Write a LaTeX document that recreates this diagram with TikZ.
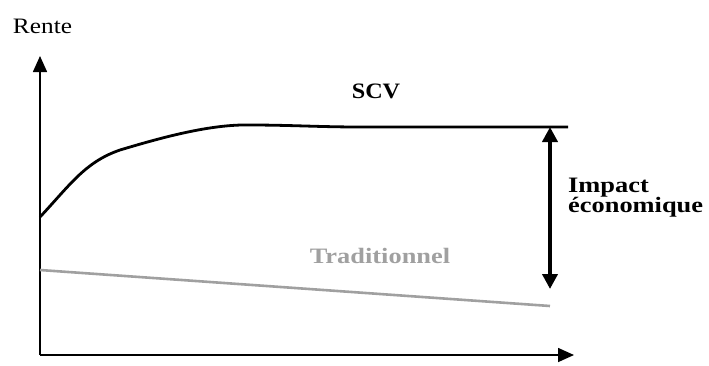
\documentclass[tikz,border=0pt]{standalone}
\usepackage{fontspec}
\setmainfont{Liberation Serif}[FakeStretch=1.15]
\newfontfamily\boldwide{Liberation Serif}[FakeStretch=1.2]
\newfontfamily\boldscv{Liberation Serif}[FakeStretch=1.1]
\usetikzlibrary{arrows.meta}
\definecolor{tradgray}{RGB}{160,160,160}
\tikzset{
  axis/.style={line width=1.6pt,-{Triangle[length=16pt,width=14pt]}},
  lbl/.style={font=\fontsize{22}{20}\boldwide\bfseries, inner sep=0pt, anchor=base},
  curve/.style={line width=2.8pt},
  dbl/.style={line width=3.8pt, {Triangle[length=15pt,width=15pt]}-{Triangle[length=15pt,width=15pt]}},
}
\begin{document}
\begin{tikzpicture}[x=1pt,y=-1pt]
\useasboundingbox (0,0) rectangle (709,365);
\coordinate (O) at (40,355);
\coordinate (ytip) at (40,56);
\coordinate (xtip) at (574,355);
\node[inner sep=0pt, anchor=base, font=\fontsize{22}{22}\selectfont] (rente) at (42.5,33) {Rente};
\draw[axis] (O) -- (ytip);
\draw[axis] (O) -- (xtip);
% SCV curve
\coordinate (s0) at (40,217);
\coordinate (s1) at (568,127);
\draw[curve] (s0) .. controls (70,185) and (85,162) .. (120,150)
  .. controls (160,138) and (210,124) .. (250,125)
  .. controls (290,125) and (320,127) .. (360,127) -- (s1);
\node[lbl, font=\fontsize{22}{20}\boldscv\bfseries] (scv) at (376,98) {SCV};
% Traditionnel
\coordinate (t0) at (40,270);
\coordinate (t1) at (550,306);
\draw[line width=2.6pt, tradgray] (t0) -- (t1);
\node[lbl, text=tradgray] (trad) at (380,263) {Traditionnel};
% double arrow
\coordinate (a0) at (550,127);
\coordinate (a1) at (550,289);
\draw[dbl] (a0) -- (a1);
\node[lbl, anchor=base west] (imp1) at (568,192) {Impact};
\node[lbl, anchor=base west] (imp2) at (568,212) {économique};
\end{tikzpicture}
\end{document}
